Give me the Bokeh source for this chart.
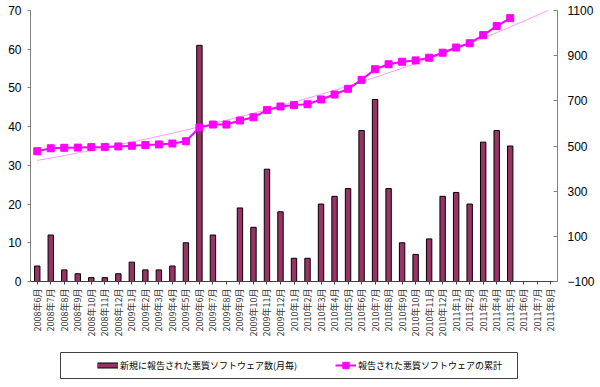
import numpy as np
from bokeh.plotting import figure
from bokeh.layouts import column
from bokeh.models import (Range1d, LinearAxis, FixedTicker, FactorRange, ColumnDataSource,
                          Legend, LegendItem, BoxAnnotation)
from bokeh.embed import file_html
from bokeh.resources import INLINE

nan = float("nan")

months = [
    "2008年6月", "2008年7月", "2008年8月", "2008年9月", "2008年10月", "2008年11月", "2008年12月",
    "2009年1月", "2009年2月", "2009年3月", "2009年4月", "2009年5月", "2009年6月", "2009年7月",
    "2009年8月", "2009年9月", "2009年10月", "2009年11月", "2009年12月",
    "2010年1月", "2010年2月", "2010年3月", "2010年4月", "2010年5月", "2010年6月", "2010年7月",
    "2010年8月", "2010年9月", "2010年10月", "2010年11月", "2010年12月",
    "2011年1月", "2011年2月", "2011年3月", "2011年4月", "2011年5月", "2011年6月", "2011年7月",
    "2011年8月",
]

new_monthly = [
    4, 12, 3, 2, 1, 1, 2,
    5, 3, 3, 4, 10, 61, 12, nan, 19, 14, 29, 18,
    6, 6, 20, 22, 24, 39, 47, 24, 10, 7, 11, 22,
    23, 20, 36, 39, 35, nan, nan, nan,
]

cumulative = [
    477, 490, 492, 493, 495, 496, 498,
    501, 504, 507, 511, 521, 582, 595, 595, 613, 627, 659, 675,
    681, 685, 706, 728, 753, 793, 840, 862, 873, 879, 891, 913,
    936, 955, 991, 1031, 1066, nan, nan, nan,
]

left_ticks = [0, 10, 20, 30, 40, 50, 60, 70]
right_ticks = [-100, 100, 300, 500, 700, 900, 1100]

label_new = "新規に報告された悪質ソフトウェア数(月毎)"
label_cum = "報告された悪質ソフトウェアの累計"

BAR = "#993366"
MAG = "#FF00FF"
JP = "Noto Sans CJK JP"

# exponential trend line fitted to the cumulative series (Excel-style)
idx = np.arange(len(months))
cum_arr = np.array(cumulative, dtype=float)
mask = np.isfinite(cum_arr)
b, a = np.polyfit(idx[mask], np.log(cum_arr[mask]), 1)
trend = np.exp(a + b * idx)

src = ColumnDataSource(dict(month=months, new=new_monthly, cum=cumulative, trend=trend))

# ---------------- main chart ----------------
p = figure(x_range=FactorRange(factors=months, range_padding=0),
           y_range=Range1d(0, 70),
           width=600, height=345, output_backend="svg", toolbar_location=None,
           min_border_left=30, min_border_right=43, min_border_top=10, min_border_bottom=64)
p.extra_y_ranges = {"cum": Range1d(-100, 1100)}
p.xgrid.visible = False
p.ygrid.visible = False
p.outline_line_color = None

p.vbar(x="month", top="new", width=0.4, source=src,
       fill_color=BAR, line_color="black", line_width=1)
p.line(x="month", y="trend", source=src, y_range_name="cum",
       line_color="#FF99FF", line_width=1)
p.line(x="month", y="cum", source=src, y_range_name="cum",
       line_color=MAG, line_width=2)
p.scatter(x="month", y="cum", source=src, y_range_name="cum", marker="square",
          size=7, fill_color=MAG, line_color=MAG)

yl = p.yaxis[0]
yl.ticker = FixedTicker(ticks=left_ticks)
yl.axis_line_color = "#808080"
yl.major_tick_line_color = "#808080"
yl.major_tick_out = 3
yl.major_tick_in = 0
yl.minor_tick_line_color = None
yl.major_label_standoff = 6
yl.major_label_text_font = "Liberation Sans"
yl.major_label_text_font_size = "12px"
yl.major_label_text_color = "black"

yr = LinearAxis(y_range_name="cum", ticker=FixedTicker(ticks=right_ticks))
yr.axis_line_color = "#808080"
yr.major_tick_line_color = "#808080"
yr.major_tick_out = 0
yr.major_tick_in = 4
yr.minor_tick_line_color = None
yr.major_label_standoff = 10
yr.major_label_text_font = "Liberation Sans"
yr.major_label_text_font_size = "12px"
yr.major_label_text_color = "black"
p.add_layout(yr, "right")

xa = p.xaxis[0]
xa.axis_line_color = "#404040"
xa.major_tick_line_color = "#404040"
xa.major_tick_out = 3
xa.major_tick_in = 0
xa.major_label_orientation = np.pi / 2
xa.major_label_standoff = 4
xa.major_label_text_font = JP
xa.major_label_text_font_size = "9px"
xa.major_label_text_color = "#333333"

# ---------------- legend strip (pixel-scaled ranges) ----------------
lg = figure(x_range=Range1d(0, 527), y_range=Range1d(0, 35),
            width=600, height=42, output_backend="svg", toolbar_location=None,
            x_axis_location=None, y_axis_location=None,
            min_border_left=30, min_border_right=43, min_border_top=5, min_border_bottom=2)
lg.xgrid.visible = False
lg.ygrid.visible = False
lg.outline_line_color = None

lg.add_layout(BoxAnnotation(left=30, right=487, bottom=7, top=33,
                            fill_color="white", fill_alpha=1.0,
                            line_color="#404040", line_width=1, line_alpha=1.0))

# legend-only swatches (single point placed outside the visible frame)
sw1 = lg.line(x=[-100], y=[-100], line_color="black", line_width=6)
sw2 = lg.line(x=[-100], y=[-100], line_color=BAR, line_width=4)
sw3 = lg.line(x=[-100], y=[-100], line_color=MAG, line_width=2)
sw4 = lg.scatter(x=[-100], y=[-100], marker="square", size=7, fill_color=MAG, line_color=MAG)

legend = Legend(items=[LegendItem(label=label_new, renderers=[sw1, sw2]),
                       LegendItem(label=label_cum, renderers=[sw3, sw4])],
                orientation="horizontal", location=(67, 12),
                glyph_width=21, glyph_height=16, label_height=16, label_standoff=2,
                spacing=38, padding=0, margin=0,
                label_text_font=JP, label_text_font_size="9px", label_text_color="black",
                border_line_alpha=0, background_fill_alpha=0)
lg.add_layout(legend)

page = column(p, lg, spacing=0)

open("out.html", "w").write(file_html(page, INLINE))
